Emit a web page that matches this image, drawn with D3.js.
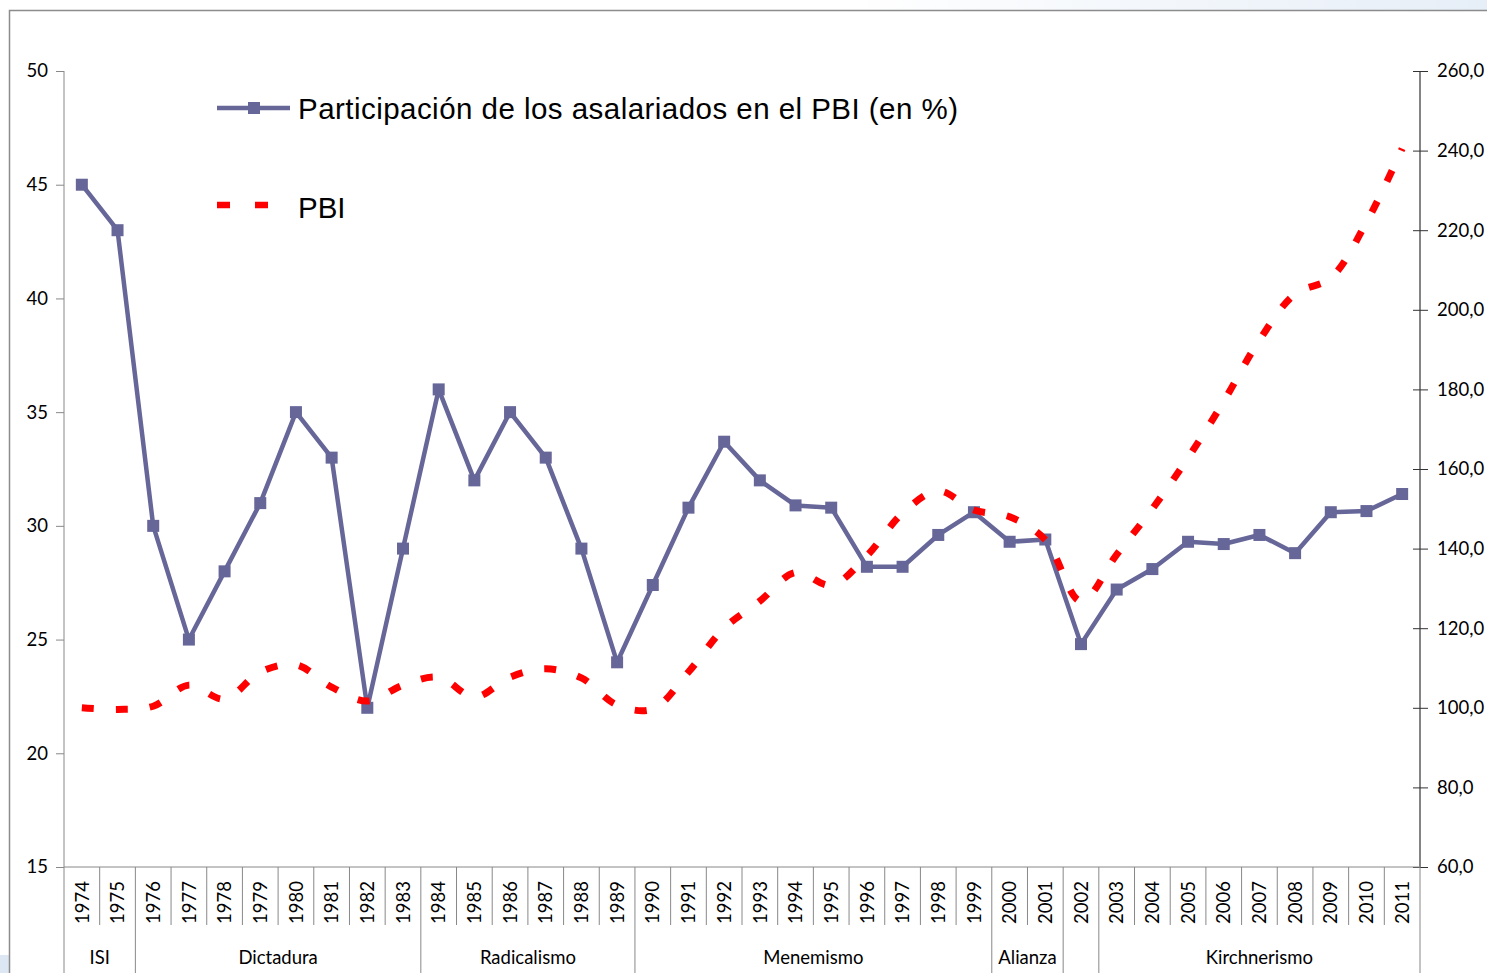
<!DOCTYPE html>
<html>
<head>
<meta charset="utf-8">
<script src="https://cdn.jsdelivr.net/npm/d3@7"></script>
<style>
  html, body { margin: 0; padding: 0; background: #fff; }
  svg { display: block; }
</style>
</head>
<body>
<div id="chart"></div>
<script>
// datos
var years = [1974, 1975, 1976, 1977, 1978, 1979, 1980, 1981, 1982, 1983,
             1984, 1985, 1986, 1987, 1988, 1989, 1990, 1991, 1992, 1993,
             1994, 1995, 1996, 1997, 1998, 1999, 2000, 2001, 2002, 2003,
             2004, 2005, 2006, 2007, 2008, 2009, 2010, 2011];

var participacion = [45, 43, 30, 25, 28, 31, 35, 33, 22, 29,
                     36, 32, 35, 33, 29, 24, 27.4, 30.8, 33.7, 32.0,
                     30.9, 30.8, 28.2, 28.2, 29.6, 30.6, 29.3, 29.4, 24.8, 27.2,
                     28.1, 29.3, 29.2, 29.6, 28.8, 30.6, 30.65, 31.4];

var pbi = [100, 99.6, 100.4, 105.7, 102.2, 109, 110.8, 105.2, 101.7, 105.7,
           107.7, 102.7, 107.7, 109.8, 107.5, 100.7, 99.7, 109, 120, 126.8,
           134, 130.8, 138.2, 148.9, 154.5, 149.7, 148, 142.2, 126.8, 138.5,
           150, 162.8, 177, 192.4, 204, 208, 222, 240.5];

var periodos = ['ISI', 'Dictadura', 'Radicalismo', 'Menemismo', 'Alianza', '', 'Kirchnerismo'];
var periodoDesde = [1974, 1976, 1984, 1990, 2000, 2002, 2003];
var periodoHasta = [1975, 1983, 1989, 1999, 2001, 2002, 2011];

var leftTicks = [15, 20, 25, 30, 35, 40, 45, 50];
var rightTicks = [60, 80, 100, 120, 140, 160, 180, 200, 220, 240, 260];

var serieNombre = 'Participación de los asalariados en el PBI (en %)';
var pbiNombre = 'PBI';

var W = 1487, H = 973,
    plotL = 64, plotR = 1420, plotT = 71, plotB = 867,
    purple = '#666699', red = '#ff0000',
    font = 'Lato, "Open Sans", sans-serif',
    legFont = '"Liberation Sans", Arial, sans-serif';

var svg = d3.select('#chart').append('svg')
    .attr('width', W)
    .attr('height', H);

// fondo de la diapositiva
var grad = svg.append('defs').append('linearGradient')
    .attr('id', 'bg').attr('x1', 0).attr('x2', 1).attr('y1', 0).attr('y2', 0);
grad.append('stop').attr('offset', 0).attr('stop-color', '#ffffff');
grad.append('stop').attr('offset', 1).attr('stop-color', '#e6eef7');
svg.append('rect').attr('x', 850).attr('y', 0).attr('width', W - 850).attr('height', 10)
    .attr('fill', 'url(#bg)');
svg.append('rect').attr('x', 0).attr('y', 955).attr('width', 9).attr('height', 18)
    .attr('fill', '#dde7f3');

svg.append('rect')
    .attr('x', 9.5).attr('y', 10.5)
    .attr('width', W + 20).attr('height', H + 20)
    .attr('fill', '#fff')
    .attr('stroke', '#8c8c8c')
    .attr('stroke-width', 1.5);

var x = d3.scaleBand().domain(years).range([plotL, plotR]);
var yL = d3.scaleLinear().domain([15, 50]).range([plotB, plotT]);
var yR = d3.scaleLinear().domain([60, 260]).range([plotB, plotT]);

// eje izquierdo
var gL = svg.append('g')
    .attr('transform', 'translate(' + plotL + ',0)')
    .call(d3.axisLeft(yL).tickValues(leftTicks).tickSize(8).tickPadding(8).tickFormat(d3.format('d')));
gL.select('.domain').remove();
gL.selectAll('line').attr('stroke', '#888');
gL.selectAll('text').attr('font-family', font).attr('font-size', 18.5).attr('fill', '#000');

// eje derecho
var gR = svg.append('g')
    .attr('transform', 'translate(' + plotR + ',0)')
    .call(d3.axisRight(yR).tickValues(rightTicks).tickSize(8).tickPadding(9)
      .tickFormat(function(d) { return d.toFixed(1).replace('.', ','); }));
gR.select('.domain').remove();
gR.selectAll('.tick line').attr('x1', -7).attr('x2', 8).attr('stroke', '#333');
gR.selectAll('text').attr('font-family', font).attr('font-size', 18.5).attr('fill', '#000');
svg.append('line')
    .attr('x1', plotR).attr('x2', plotR).attr('y1', plotT).attr('y2', plotB)
    .attr('stroke', '#333').attr('stroke-width', 1.2);

// eje inferior con años
svg.append('line')
    .attr('x1', plotL).attr('x2', plotR).attr('y1', plotB).attr('y2', plotB)
    .attr('stroke', '#888');
svg.append('line')
    .attr('x1', plotL).attr('x2', plotL).attr('y1', plotT).attr('y2', H)
    .attr('stroke', '#888');

var gX = svg.append('g')
    .attr('transform', 'translate(0,' + plotB + ')')
    .call(d3.axisBottom(x).tickSize(0).tickPadding(0));
gX.select('.domain').remove();
gX.selectAll('.tick text')
    .attr('font-family', font).attr('font-size', 18.5).attr('fill', '#000')
    .attr('text-anchor', 'end')
    .attr('transform', 'translate(0,14) rotate(-90)')
    .attr('x', 0).attr('y', 0).attr('dy', '0.36em');

// separadores de años
svg.append('g').selectAll('line')
    .data(years.slice(1))
    .enter().append('line')
      .attr('x1', function(d) { return x(d); })
      .attr('x2', function(d) { return x(d); })
      .attr('y1', plotB)
      .attr('y2', function(d) { return periodoDesde.indexOf(d) >= 0 ? H : 925; })
      .attr('stroke', '#888');
svg.append('line')
    .attr('x1', plotR).attr('x2', plotR).attr('y1', plotB).attr('y2', H)
    .attr('stroke', '#888');

// períodos
svg.append('g').selectAll('text')
    .data(periodos)
    .enter().append('text')
      .attr('x', function(d, i) {
        return (x(periodoDesde[i]) + x(periodoHasta[i]) + x.bandwidth()) / 2;
      })
      .attr('y', 963.5)
      .attr('text-anchor', 'middle')
      .attr('font-family', font).attr('font-size', 18.5)
      .text(function(d) { return d; });

// serie participación
var lineP = d3.line()
    .x(function(d, i) { return x(years[i]) + x.bandwidth() / 2; })
    .y(function(d) { return yL(d); });

svg.append('path')
    .datum(participacion)
    .attr('d', lineP)
    .attr('fill', 'none')
    .attr('stroke', purple)
    .attr('stroke-width', 4.5)
    .attr('stroke-linejoin', 'round');

svg.append('g').selectAll('rect')
    .data(participacion)
    .enter().append('rect')
      .attr('x', function(d, i) { return x(years[i]) + x.bandwidth() / 2 - 6; })
      .attr('y', function(d) { return yL(d) - 6; })
      .attr('width', 12).attr('height', 12)
      .attr('fill', purple);

// serie PBI
var lineR = d3.line()
    .x(function(d, i) { return x(years[i]) + x.bandwidth() / 2; })
    .y(function(d) { return yR(d); })
    .curve(d3.curveCatmullRom.alpha(0.5));

svg.append('path')
    .datum(pbi)
    .attr('d', lineR)
    .attr('fill', 'none')
    .attr('stroke', red)
    .attr('stroke-width', 7)
    .attr('stroke-dasharray', '12,22');

// leyenda
var leg = svg.append('g');
leg.append('line')
    .attr('x1', 217).attr('x2', 290).attr('y1', 108).attr('y2', 108)
    .attr('stroke', purple).attr('stroke-width', 4.5);
leg.append('rect')
    .attr('x', 248).attr('y', 102).attr('width', 12).attr('height', 12)
    .attr('fill', purple);
leg.append('text')
    .attr('x', 298).attr('y', 119)
    .attr('font-family', legFont)
    .attr('font-size', 29.5)
    .attr('textLength', 660)
    .attr('lengthAdjust', 'spacing')
    .text(serieNombre);

leg.append('line')
    .attr('x1', 217).attr('x2', 270).attr('y1', 205).attr('y2', 205)
    .attr('stroke', red).attr('stroke-width', 6.5)
    .attr('stroke-dasharray', '13,25');
leg.append('text')
    .attr('x', 298).attr('y', 217.5)
    .attr('font-family', legFont)
    .attr('font-size', 29.5)
    .text(pbiNombre);
</script>
</body>
</html>
